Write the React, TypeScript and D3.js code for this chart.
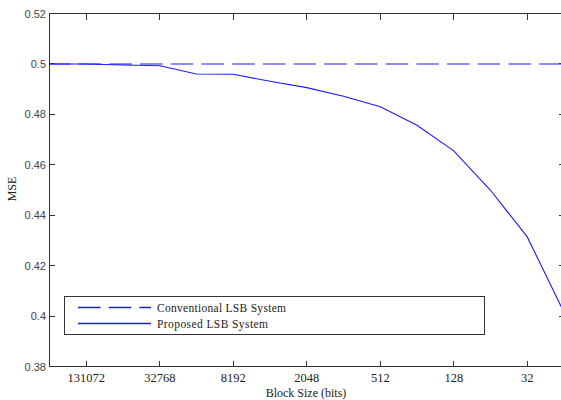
import { useEffect, useRef } from "react";
import * as d3 from "d3";

const blockSizes = [262144, 131072, 65536, 32768, 16384, 8192, 4096, 2048, 1024, 512, 256, 128, 64, 32, 16];
const proposedMse = [0.5, 0.5, 0.4996, 0.4993, 0.496, 0.4959, 0.4931, 0.4906, 0.4872, 0.483, 0.4757, 0.4655, 0.4499, 0.4314, 0.4015];
const conventionalMse = [0.5, 0.5, 0.5, 0.5, 0.5, 0.5, 0.5, 0.5, 0.5, 0.5, 0.5, 0.5, 0.5, 0.5, 0.5];
const xTickValues = [131072, 32768, 8192, 2048, 512, 128, 32];
const yTickValues = [0.38, 0.4, 0.42, 0.44, 0.46, 0.48, 0.5, 0.52];
const legendLabels = ["Conventional LSB System", "Proposed LSB System"];

function App() {
  const ref = useRef<SVGSVGElement>(null);
  const width = 561;
  const height = 400;

  useEffect(() => {
    const svg = d3.select(ref.current);
    svg.selectAll("*").remove();

    const left = 49.5;
    const right = 564;
    const top = 13.5;
    const bottom = 366.5;

    const x = d3.scaleLog().base(2).domain([262144, 16]).range([left, right]);
    const y = d3.scaleLinear().domain([0.38, 0.52]).range([bottom, top]);

    const axisColor = "#333";
    const lineColor = "#1a1aff";
    const serif = "'Liberation Serif', 'Times New Roman', serif";
    const sans = "'Liberation Sans', Arial, sans-serif";

    svg.append("defs").append("clipPath").attr("id", "plot-clip")
      .append("rect").attr("x", left).attr("y", top).attr("width", right - left).attr("height", bottom - top);

    // lines
    const line = d3.line<number>()
      .x((_, i) => x(blockSizes[i]))
      .y((d) => y(d));

    const g = svg.append("g").attr("clip-path", "url(#plot-clip)");
    g.append("path")
      .datum(proposedMse)
      .attr("d", line)
      .attr("fill", "none")
      .attr("stroke", lineColor)
      .attr("stroke-width", 1.1);
    g.append("path")
      .datum(conventionalMse)
      .attr("d", line)
      .attr("fill", "none")
      .attr("stroke", lineColor)
      .attr("stroke-width", 1.1)
      .attr("stroke-dasharray", "22.5,8.2")
      .attr("stroke-dashoffset", 1.5);

    // frame
    const frame = svg.append("g").attr("stroke", axisColor).attr("shape-rendering", "crispEdges");
    frame.append("rect")
      .attr("x", left).attr("y", top).attr("width", right - left).attr("height", bottom - top)
      .attr("fill", "none").attr("stroke-width", 1.2);

    xTickValues.forEach((t) => {
      frame.append("line").attr("x1", x(t)).attr("x2", x(t)).attr("y1", bottom).attr("y2", bottom - 6);
      frame.append("line").attr("x1", x(t)).attr("x2", x(t)).attr("y1", top).attr("y2", top + 6);
    });
    yTickValues.forEach((t) => {
      frame.append("line").attr("x1", left).attr("x2", left + 5).attr("y1", y(t)).attr("y2", y(t));
      frame.append("line").attr("x1", right).attr("x2", right - 5).attr("y1", y(t)).attr("y2", y(t));
    });

    // tick labels
    svg.append("g").selectAll("text")
      .data(xTickValues)
      .enter()
      .append("text")
      .attr("x", (d) => x(d))
      .attr("y", 382)
      .attr("text-anchor", "middle")
      .attr("font-family", serif)
      .attr("font-size", 12.5)
      .attr("fill", "#222")
      .text((d) => String(d));

    svg.append("g").selectAll("text")
      .data(yTickValues)
      .enter()
      .append("text")
      .attr("x", 46)
      .attr("y", (d) => y(d) + 4)
      .attr("text-anchor", "end")
      .attr("font-family", sans)
      .attr("font-size", 11)
      .attr("fill", "#444")
      .text((d) => String(+d.toFixed(2)));

    // axis titles
    svg.append("text")
      .attr("x", 306)
      .attr("y", 397)
      .attr("text-anchor", "middle")
      .attr("font-family", serif)
      .attr("font-size", 12)
      .attr("fill", "#222")
      .text("Block Size (bits)");

    svg.append("text")
      .attr("transform", "translate(16,189) rotate(-90)")
      .attr("text-anchor", "middle")
      .attr("font-family", serif)
      .attr("font-size", 12)
      .attr("fill", "#222")
      .text("MSE");

    // legend
    const legend = svg.append("g");
    legend.append("rect")
      .attr("x", 64.5).attr("y", 296.5).attr("width", 420).attr("height", 38)
      .attr("fill", "white").attr("stroke", axisColor).attr("stroke-width", 1.2)
      .attr("shape-rendering", "crispEdges");
    const rows = [
      { label: legendLabels[0], dash: "22.5,8.2", y: 307.5, w: 129 },
      { label: legendLabels[1], dash: null, y: 323.5, w: 111 },
    ];
    rows.forEach((r) => {
      const l = legend.append("line")
        .attr("x1", 78).attr("x2", 151).attr("y1", r.y).attr("y2", r.y)
        .attr("stroke", lineColor).attr("stroke-width", 1.3);
      if (r.dash) l.attr("stroke-dasharray", r.dash);
      legend.append("text")
        .attr("x", 157)
        .attr("y", r.y + 4)
        .attr("font-family", serif)
        .attr("font-size", 11.5)
        .attr("fill", "#222")
        .attr("textLength", r.w)
        .attr("lengthAdjust", "spacing")
        .text(r.label);
    });
  }, []);

  return (
    <svg
      ref={ref}
      width={width}
      height={height}
      style={{ position: "absolute", left: 0, top: 0, background: "white" }}
    />
  );
}

export default App;
